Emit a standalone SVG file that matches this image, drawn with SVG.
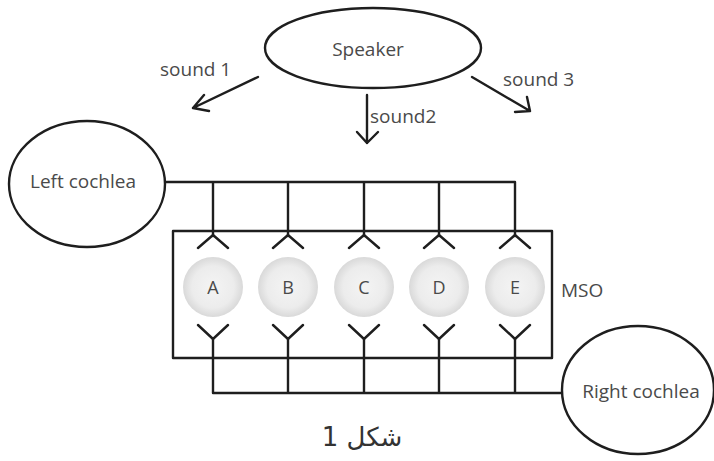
<svg xmlns="http://www.w3.org/2000/svg" width="714" height="461" viewBox="0 0 714 461">
<style>
.ln{stroke:#1e1e1e;stroke-width:2.4;fill:none;stroke-linecap:round;stroke-linejoin:round}
.sh{stroke:#1e1e1e;stroke-width:2.4;fill:#fff}
.t{font-family:"Open Sans","DejaVu Sans",sans-serif;font-size:19px;fill:#4a4a4a}
.c{font-family:"Open Sans","DejaVu Sans",sans-serif;font-size:19px;fill:#4a4a4a;text-anchor:middle}
.cir{fill:url(#g);stroke:none}
</style>
<defs>
<radialGradient id="g" cx="0.5" cy="0.5" r="0.5">
<stop offset="0" stop-color="#f4f4f4"/>
<stop offset="0.7" stop-color="#ececec"/>
<stop offset="1" stop-color="#d9d9d9"/>
</radialGradient>
</defs>
<rect width="714" height="461" fill="#fff"/>
<g id="connectors">
<path class="ln" d="M258,77 L193,108 M193,108 L204,95 M193,108 L209,111"/>
<path class="ln" d="M367,95 L367,143 M357,132 L367,143 L378,132"/>
<path class="ln" d="M472,77 L530,111 M530,111 L527,97 M530,111 L515,112"/>
<path class="ln" d="M165,182 L515,182 M213,182 L213,236 M288,182 L288,236 M364,182 L364,236 M439,182 L439,236 M515,182 L515,236"/>
<path class="ln" d="M213,339 L213,393 M288,339 L288,393 M364,339 L364,393 M439,339 L439,393 M515,339 L515,393 M213,393 L562,393"/>
</g>
<g id="mso">
<rect x="173" y="231" width="379" height="127" class="ln"/>
<text class="t" x="561" y="297">MSO</text>
</g>
<g id="node-A">
<path class="ln" d="M198,248 L213,235 L228,248 M198,325 L213,339 L228,325"/>
<circle class="cir" cx="213" cy="287" r="30"/>
<text class="c" x="213" y="294" style="font-size:18px">A</text>
</g>
<g id="node-B">
<path class="ln" d="M273,248 L288,235 L303,248 M273,325 L288,339 L303,325"/>
<circle class="cir" cx="288" cy="287" r="30"/>
<text class="c" x="288" y="294" style="font-size:18px">B</text>
</g>
<g id="node-C">
<path class="ln" d="M349,248 L364,235 L379,248 M349,325 L364,339 L379,325"/>
<circle class="cir" cx="364" cy="287" r="30"/>
<text class="c" x="364" y="294" style="font-size:18px">C</text>
</g>
<g id="node-D">
<path class="ln" d="M424,248 L439,235 L454,248 M424,325 L439,339 L454,325"/>
<circle class="cir" cx="439" cy="287" r="30"/>
<text class="c" x="439" y="294" style="font-size:18px">D</text>
</g>
<g id="node-E">
<path class="ln" d="M500,248 L515,235 L530,248 M500,325 L515,339 L530,325"/>
<circle class="cir" cx="515" cy="287" r="30"/>
<text class="c" x="515" y="294" style="font-size:18px">E</text>
</g>
<g id="speaker">
<ellipse class="sh" cx="373" cy="48" rx="108" ry="40"/>
<text class="c" x="368" y="56">Speaker</text>
</g>
<g id="left-cochlea">
<ellipse class="sh" cx="87" cy="184" rx="78" ry="63"/>
<text class="c" x="83" y="188">Left cochlea</text>
</g>
<g id="right-cochlea">
<ellipse class="sh" cx="638" cy="390" rx="76" ry="64"/>
<text class="c" x="641" y="398">Right cochlea</text>
</g>
<g id="labels">
<text class="t" x="160" y="76">sound 1</text>
<text class="t" x="370" y="123">sound2</text>
<text class="t" x="503" y="86">sound 3</text>
<text x="362" y="446" style="font-family:'DejaVu Sans',sans-serif;font-size:26px;fill:#333;text-anchor:middle" direction="rtl">شکل 1</text>
</g>
</svg>
